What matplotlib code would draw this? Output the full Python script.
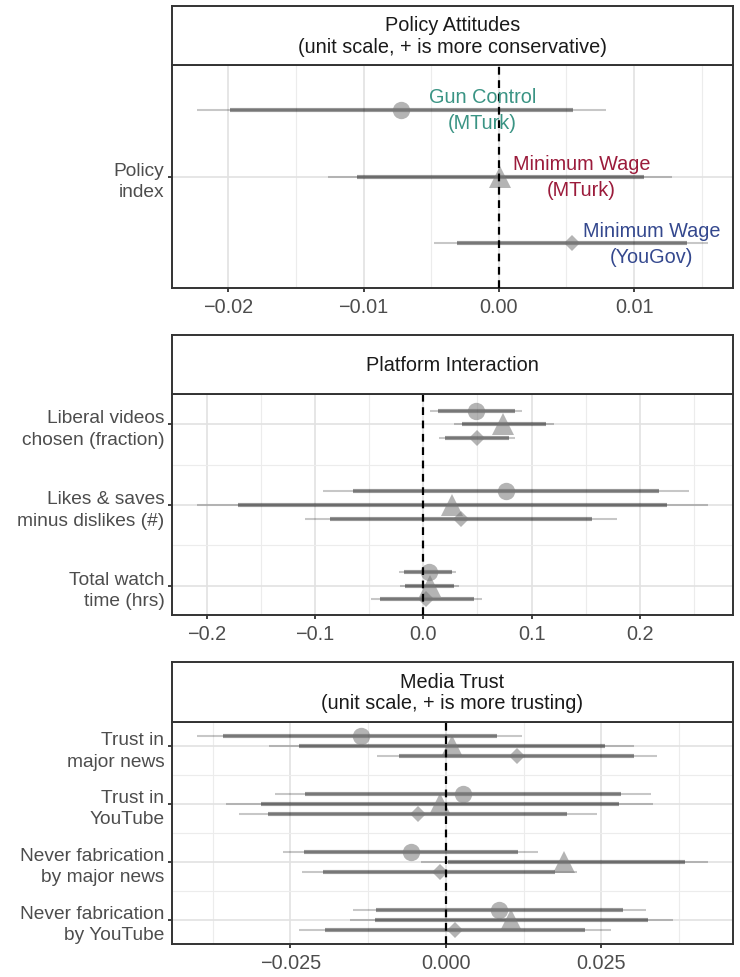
import matplotlib
matplotlib.use("Agg")
import matplotlib.pyplot as plt
import numpy as np

plt.rcParams['font.family'] = ['Liberation Sans', 'DejaVu Sans']

# ---------------- data ----------------
# Panel 1: Policy Attitudes (one category, three studies)
p1_categories = ["Policy\nindex"]
p1_est  = {"circle": [-0.0072], "triangle": [0.0001], "diamond": [0.0054]}
p1_lo95 = {"circle": [-0.0223], "triangle": [-0.0126], "diamond": [-0.0048]}
p1_hi95 = {"circle": [0.0079], "triangle": [0.0128], "diamond": [0.0155]}
p1_lo90 = {"circle": [-0.0199], "triangle": [-0.0105], "diamond": [-0.0031]}
p1_hi90 = {"circle": [0.0055], "triangle": [0.0107], "diamond": [0.0139]}
p1_xticks = [-0.02, -0.01, 0.00, 0.01]
p1_xticklabels = ["\u22120.02", "\u22120.01", "0.00", "0.01"]
p1_labels = ["Gun Control\n(MTurk)", "Minimum Wage\n(MTurk)", "Minimum Wage\n(YouGov)"]
p1_label_x = [-0.0012, 0.0061, 0.0113]

# Panel 2: Platform Interaction
p2_categories = ["Liberal videos\nchosen (fraction)", "Likes & saves\nminus dislikes (#)", "Total watch\ntime (hrs)"]
p2_est  = {"circle": [0.0487, 0.0760, 0.0049], "triangle": [0.0740, 0.0266, 0.0059], "diamond": [0.0493, 0.0349, 0.0026]}
p2_lo95 = {"circle": [0.0066, -0.0928, -0.0227], "triangle": [0.0280, -0.2086, -0.0220], "diamond": [0.0141, -0.1092, -0.0484]}
p2_hi95 = {"circle": [0.0914, 0.2450, 0.0306], "triangle": [0.1207, 0.2625, 0.0326], "diamond": [0.0849, 0.1786, 0.0546]}
p2_lo90 = {"circle": [0.0132, -0.0648, -0.0178], "triangle": [0.0355, -0.1707, -0.0171], "diamond": [0.0197, -0.0862, -0.0401]}
p2_hi90 = {"circle": [0.0849, 0.2180, 0.0266], "triangle": [0.1135, 0.2247, 0.0280], "diamond": [0.0790, 0.1556, 0.0464]}
p2_xticks = [-0.2, -0.1, 0.0, 0.1, 0.2]
p2_xticklabels = ["\u22120.2", "\u22120.1", "0.0", "0.1", "0.2"]

# Panel 3: Media Trust
p3_categories = ["Trust in\nmajor news", "Trust in\nYouTube", "Never fabrication\nby major news", "Never fabrication\nby YouTube"]
p3_est  = {"circle": [-0.0137, 0.0028, -0.0056, 0.0086], "triangle": [0.0009, -0.0010, 0.0190, 0.0105], "diamond": [0.0114, -0.0045, -0.0010, 0.0014]}
p3_lo95 = {"circle": [-0.0401, -0.0275, -0.0262, -0.0149], "triangle": [-0.0285, -0.0353, -0.0040, -0.0155], "diamond": [-0.0111, -0.0332, -0.0232, -0.0236]}
p3_hi95 = {"circle": [0.0122, 0.0329, 0.0148, 0.0322], "triangle": [0.0302, 0.0333, 0.0421, 0.0365], "diamond": [0.0339, 0.0243, 0.0211, 0.0266]}
p3_lo90 = {"circle": [-0.0358, -0.0227, -0.0228, -0.0112], "triangle": [-0.0237, -0.0298, 0.0003, -0.0114], "diamond": [-0.0076, -0.0286, -0.0197, -0.0195]}
p3_hi90 = {"circle": [0.0082, 0.0281, 0.0115, 0.0285], "triangle": [0.0255, 0.0278, 0.0384, 0.0325], "diamond": [0.0303, 0.0195, 0.0175, 0.0224]}
p3_xticks = [-0.025, 0.0, 0.025]
p3_xticklabels = ["\u22120.025", "0.000", "0.025"]

series = ["circle", "triangle", "diamond"]
label_colors = ["#3a9484", "#9b1b3b", "#34488e"]

# ---------------- style ----------------
W, H = 740, 978
fig = plt.figure(figsize=(W / 100, H / 100), dpi=100)

FS = 14.3
YFS = 13.8
TXT = "#4d4d4d"
marker_style = {"circle": dict(marker="o", ms=12.5),
                "triangle": dict(marker="^", ms=15.5),
                "diamond": dict(marker="D", ms=8.5)}


def fy(px):
    return 1 - px / H


def make_panel(top, bottom, strip_top, xlim, ylim, xticks, xticklabels, minor_x,
               categories, minor_y, title):
    left, right = 171.7, 732.7
    ax = fig.add_axes([left / W, fy(bottom), (right - left) / W, (bottom - top) / H])
    sx = fig.add_axes([left / W, fy(top), (right - left) / W, (top - strip_top) / H])
    sx.set_xticks([]); sx.set_yticks([])
    for s in sx.spines.values():
        s.set_linewidth(1.4); s.set_color("#333333")
    sx.text(0.5, 0.5, title, ha="center", va="center", fontsize=FS,
            color="#1a1a1a", transform=sx.transAxes, linespacing=1.15)

    ax.set_xlim(*xlim)
    ax.set_ylim(*ylim)
    ax.set_xticks(xticks)
    ax.set_xticklabels(xticklabels)
    ax.set_xticks(minor_x, minor=True)
    ax.set_yticks(np.arange(1, len(categories) + 1))
    ax.set_yticklabels(categories, multialignment="right", linespacing=1.35)
    ax.set_yticks(minor_y, minor=True)
    ax.tick_params(axis="x", which="major", labelsize=FS, labelcolor=TXT,
                   length=3.2, width=1.3, color="#333333", pad=3)
    ax.tick_params(axis="y", which="major", labelsize=YFS, labelcolor=TXT,
                   length=3.2, width=1.3, color="#333333", pad=2)
    ax.tick_params(which="minor", length=0)
    ax.grid(True, which="major", color="#e2e2e2", lw=1.2)
    ax.grid(True, which="minor", color="#ececec", lw=0.8)
    ax.set_axisbelow(True)
    for s in ax.spines.values():
        s.set_linewidth(1.4); s.set_color("#333333")
    ax.axvline(0, color="black", lw=1.6, ls=(0, (3.5, 2.5)), zorder=5)
    return ax


def draw_series(ax, est, lo95, hi95, lo90, hi90, ncat, off):
    base = np.arange(1, ncat + 1)
    offsets = {"circle": -off, "triangle": 0.0, "diamond": off}
    for s in series:
        y = base + offsets[s]
        ax.hlines(y, lo95[s], hi95[s], color="black", alpha=0.22, lw=1.5, zorder=2)
        ax.hlines(y, lo90[s], hi90[s], color="black", alpha=0.40, lw=3.0, zorder=3)
        ax.plot(est[s], y, ls="none", color="#777777", alpha=0.55,
                markeredgewidth=0, zorder=4, **marker_style[s])


# Panel 1
ax1 = make_panel(66, 289, 7, (-0.02419, 0.01729), (1.5, 0.5), p1_xticks, p1_xticklabels,
                 [-0.015, -0.005, 0.005, 0.015], p1_categories, [],
                 "Policy Attitudes\n(unit scale, + is more conservative)")
draw_series(ax1, p1_est, p1_lo95, p1_hi95, p1_lo90, p1_hi90, 1, 0.3)
for i, (lab, lx, c) in enumerate(zip(p1_labels, p1_label_x, label_colors)):
    ax1.text(lx, 1 + (i - 1) * 0.3, lab, ha="center", va="center", fontsize=FS,
             color=c, linespacing=1.45, zorder=6)

# Panel 2
ax2 = make_panel(395, 616, 336, (-0.2323, 0.2856), (3.361, 0.626), p2_xticks, p2_xticklabels,
                 [-0.15, -0.05, 0.05, 0.15, 0.25], p2_categories, [1.5, 2.5],
                 "Platform Interaction")
draw_series(ax2, p2_est, p2_lo95, p2_hi95, p2_lo90, p2_hi90, 3, 0.168)

# Panel 3
ax3 = make_panel(723, 945, 663, (-0.0441, 0.0461), (4.42, 0.586), p3_xticks, p3_xticklabels,
                 [-0.0375, -0.0125, 0.0125, 0.0375], p3_categories, [1.5, 2.5, 3.5],
                 "Media Trust\n(unit scale, + is more trusting)")
draw_series(ax3, p3_est, p3_lo95, p3_hi95, p3_lo90, p3_hi90, 4, 0.172)

fig.savefig("out.png", dpi=100, facecolor="white")
